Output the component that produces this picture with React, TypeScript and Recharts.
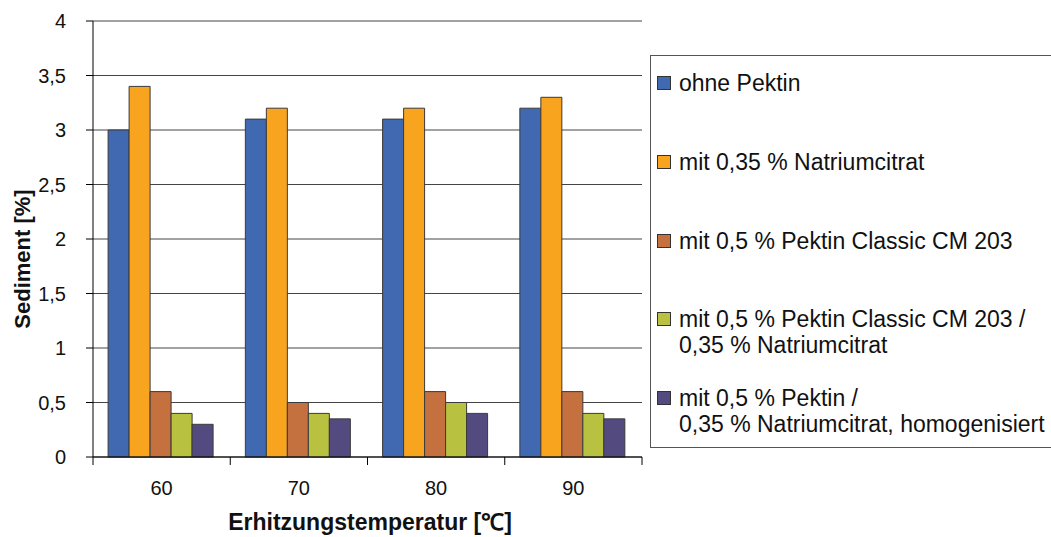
import { BarChart, Bar, XAxis, YAxis, CartesianGrid, Legend, Label } from 'recharts';

const CATEGORIES = ['60', '70', '80', '90'];

const OHNE_PEKTIN = [3.0, 3.1, 3.1, 3.2];
const NATRIUMCITRAT = [3.4, 3.2, 3.2, 3.3];
const PEKTIN_CM203 = [0.6, 0.5, 0.6, 0.6];
const PEKTIN_CM203_CITRAT = [0.4, 0.4, 0.5, 0.4];
const PEKTIN_CITRAT_HOMOG = [0.3, 0.35, 0.4, 0.35];

const Y_TICKS = [0, 0.5, 1, 1.5, 2, 2.5, 3, 3.5, 4];

const SERIES = [
  { key: 's1', name: 'ohne Pektin', color: '#4169b2', values: OHNE_PEKTIN },
  { key: 's2', name: 'mit 0,35 % Natriumcitrat', color: '#f9a41e', values: NATRIUMCITRAT },
  { key: 's3', name: 'mit 0,5 % Pektin Classic CM 203', color: '#c4703f', values: PEKTIN_CM203 },
  {
    key: 's4',
    name: 'mit 0,5 % Pektin Classic CM 203 /\n0,35 % Natriumcitrat',
    color: '#b9c141',
    values: PEKTIN_CM203_CITRAT,
  },
  {
    key: 's5',
    name: 'mit 0,5 % Pektin /\n0,35 % Natriumcitrat, homogenisiert',
    color: '#534b80',
    values: PEKTIN_CITRAT_HOMOG,
  },
];

const data = CATEGORIES.map((c, i) => {
  const row: Record<string, string | number> = { temp: c };
  SERIES.forEach((s) => {
    row[s.key] = s.values[i];
  });
  return row;
});

const FONT = '"Liberation Sans", Arial, sans-serif';
const W = 1051;
const H = 537;
const PLOT_LEFT = 93;
const PLOT_RIGHT = 642;
const HALF_BAND = (PLOT_RIGHT - PLOT_LEFT) / CATEGORIES.length / 2;

function XTick(props: any) {
  const { x, y, payload, index } = props;
  const last = index === CATEGORIES.length - 1;
  return (
    <g>
      <line x1={x - HALF_BAND} x2={x - HALF_BAND} y1={y} y2={y + 8} stroke="#000" />
      {last && <line x1={x + HALF_BAND} x2={x + HALF_BAND} y1={y} y2={y + 8} stroke="#000" />}
      <text x={x} y={y + 38} textAnchor="middle" fontSize={20} fontFamily={FONT} fill="#111">
        {payload.value}
      </text>
    </g>
  );
}

const ITEM_TOPS = [27, 106, 185, 263, 342];

// legend drawn from SERIES so the order stays as in the source chart
function LegendBox() {
  return (
    <div
      style={{
        position: 'relative',
        width: 420,
        height: 393,
        border: '1px solid #555',
        background: '#fff',
        fontFamily: FONT,
        fontSize: 23,
        color: '#111',
        boxSizing: 'border-box',
      }}
    >
      {SERIES.map((s, i) => {
        const lines = s.name.split('\n');
        return (
          <div key={s.key} style={{ position: 'absolute', left: 6, top: ITEM_TOPS[i] - 13 }}>
            <div
              style={{
                position: 'absolute',
                left: 0,
                top: 6,
                width: 14,
                height: 14,
                background: s.color,
                border: '1px solid #333',
                boxSizing: 'border-box',
              }}
            />
            <div style={{ marginLeft: 22, lineHeight: '26px', whiteSpace: 'nowrap' }}>
              {lines.map((l, j) => (
                <div key={j}>{l}</div>
              ))}
            </div>
          </div>
        );
      })}
    </div>
  );
}

export default function App() {
  return (
    <div style={{ position: 'absolute', left: 0, top: 0, width: W, height: H, background: '#fff' }}>
      <BarChart
        width={W}
        height={H}
        data={data}
        margin={{ top: 21, right: W - PLOT_RIGHT, bottom: 20, left: PLOT_LEFT - 60 }}
        barCategoryGap="11%"
        barGap={0}
      >
        <CartesianGrid vertical={false} stroke="#444" />
        <XAxis
          dataKey="temp"
          height={60}
          tickSize={0}
          tickMargin={0}
          tickLine={false}
          axisLine={{ stroke: '#000' }}
          tick={<XTick />}
          interval={0}
        >
          <Label
            content={() => (
              <text
                x={370}
                y={530}
                textAnchor="middle"
                fontSize={23}
                fontWeight="bold"
                fontFamily={FONT}
                fill="#111"
              >
                Erhitzungstemperatur [℃]
              </text>
            )}
          />
        </XAxis>
        <YAxis
          width={60}
          domain={[0, 4]}
          ticks={Y_TICKS}
          interval={0}
          tickSize={7}
          tickMargin={20}
          axisLine={{ stroke: '#000' }}
          tickLine={{ stroke: '#000' }}
          tick={{ fontSize: 20, fontFamily: FONT, fill: '#111' }}
          tickFormatter={(v: number) => String(v).replace('.', ',')}
        >
          <Label
            content={() => (
              <text
                x={30}
                y={259}
                transform="rotate(-90 30 259)"
                textAnchor="middle"
                fontSize={22}
                fontWeight="bold"
                fontFamily={FONT}
                fill="#111"
              >
                Sediment [%]
              </text>
            )}
          />
        </YAxis>
        <YAxis
          yAxisId="right"
          orientation="right"
          width={0}
          domain={[0, 4]}
          tick={false}
          tickLine={false}
          axisLine={{ stroke: '#bbb' }}
        />
        <Legend
          layout="vertical"
          align="center"
          verticalAlign="middle"
          wrapperStyle={{ left: 650, top: 55, width: 420 }}
          content={<LegendBox />}
        />
        {SERIES.map((s) => (
          <Bar
            key={s.key}
            dataKey={s.key}
            name={s.name}
            fill={s.color}
            stroke="#3a3a3a"
            strokeWidth={1}
            isAnimationActive={false}
          />
        ))}
      </BarChart>
    </div>
  );
}
